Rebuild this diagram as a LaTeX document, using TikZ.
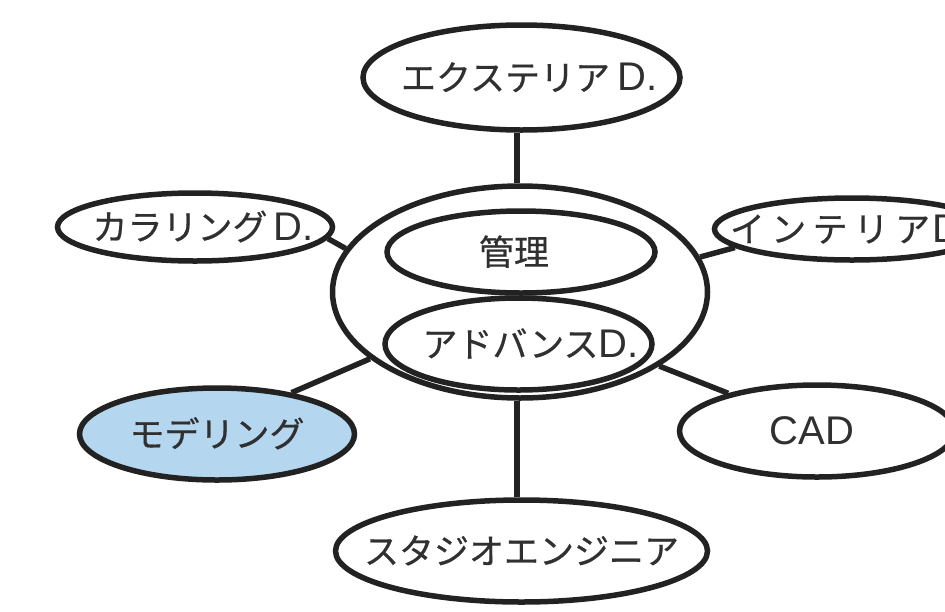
\documentclass[tikz,border=0pt]{standalone}
\usepackage{fontspec}
\usetikzlibrary{shapes.geometric}
\newfontfamily\jp[FakeBold=0.5]{Noto Sans CJK JP}
\newfontfamily\lat{Liberation Sans}
\definecolor{ink}{HTML}{222222}
\definecolor{txt}{HTML}{303030}
\definecolor{modfill}{RGB}{180,214,238}
\newcommand\lbl[2][0pt]{\raisebox{-13pt}[0pt][0pt]{\makebox[0pt]{\hspace*{#1}\hspace*{#1}#2}}}
\newcommand\JPT[1]{{\fontsize{35pt}{40pt}\jp #1}}
\newcommand\LTT[1]{{\fontsize{40pt}{44pt}\lat #1}}
\tikzset{
  bub/.style={draw=ink, line width=5.5pt, ellipse, inner sep=0pt, fill=white, text=txt},
  conn/.style={draw=ink, line width=5.5pt}
}
\begin{document}
\begin{tikzpicture}[x=1pt,y=-1pt]
\useasboundingbox (0,0) rectangle (945,611);
\clip (0,0) rectangle (945,611);
\fill[white] (0,0) rectangle (945,611);
% central
\node[bub, minimum width=375pt, minimum height=212pt] (cen) at (520,292) {};
\node[bub, minimum width=268pt, minimum height=82pt] (kan) at (521,252) {\lbl[-7pt]{\JPT{管理}}};
\node[bub, minimum width=267pt, minimum height=92pt] (adv) at (518.5,344) {\lbl[12pt]{\JPT{アドバンス}\LTT{D.}}};
% satellites
\node[bub, minimum width=317pt, minimum height=105pt] (ext) at (521.5,77.5) {\lbl[8pt]{\JPT{エクステリア}\hspace{8pt}\LTT{D.}}};
\node[bub, minimum width=275pt, minimum height=68pt] (kar) at (195,227) {\lbl[8pt]{\JPT{カラリング}\hspace{6pt}\LTT{D.}}};
\node[bub, minimum width=275pt, minimum height=62pt] (int) at (852,229) {\lbl[-1pt]{\JPT{\addfontfeature{LetterSpace=18}インテリア}\hspace{2pt}\LTT{D.}}};
\node[bub, fill=modfill, minimum width=275pt, minimum height=92pt] (mod) at (217,434) {\lbl{\JPT{モデリング}}};
\node[bub, minimum width=275pt, minimum height=92pt] (cad) at (817,431) {\lbl[-5pt]{\LTT{CAD}}};
\node[bub, minimum width=372pt, minimum height=102pt] (sta) at (521.5,551) {\lbl{\JPT{スタジオエンジニア}}};
% connectors
\coordinate (t1) at ([xshift=-4.5pt]ext.south);
\coordinate (t2) at ([xshift=-4.5pt]sta.north);
\draw[conn] (t1) -- (t1 |- cen.north);
\draw[conn] (t2 |- cen.south) -- (t2);
\draw[conn] (kar.-5) -- (cen.166.5);
\draw[conn] (cen.11) -- (int.189);
\draw[conn] (mod.29) -- (cen.204);
\draw[conn] (cen.-28) -- (cad.157);
\end{tikzpicture}
\end{document}
